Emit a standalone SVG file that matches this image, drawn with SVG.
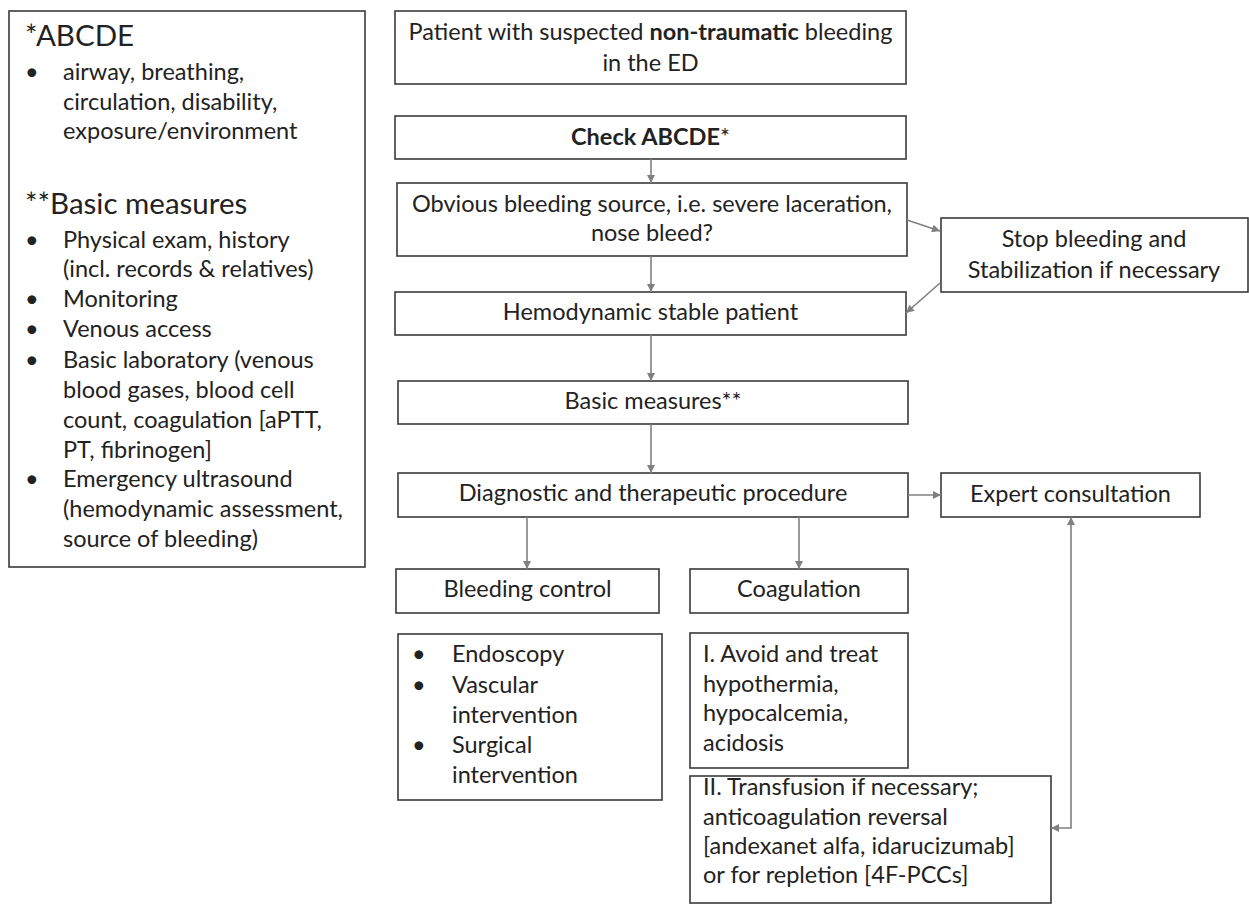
<svg xmlns="http://www.w3.org/2000/svg" width="1249" height="904" viewBox="0 0 1249 904">
<style>
  text { font-family: Lato, "Liberation Sans", sans-serif; fill: #222; }
  .box { fill: #fff; stroke: #3a3a3a; stroke-width: 1.6; }
  .t { font-size: 23.5px; }
  .c { text-anchor: middle; }
  .h { font-size: 29.5px; }
  .b { font-weight: bold; }
  .conn { stroke: #808080; stroke-width: 1.6; fill: none; marker-end: url(#ah); }
</style>
<defs>
  <marker id="ah" viewBox="0 0 10 10" refX="10" refY="5" markerWidth="10" markerHeight="8" markerUnits="userSpaceOnUse" orient="auto-start-reverse">
    <path d="M0,0 L10,5 L0,10 z" fill="#808080"/>
  </marker>
</defs>
<rect width="1249" height="904" fill="#fff"/>

<g id="legend">
  <rect class="box" x="9" y="11" width="356" height="556"/>
  <text class="h" x="25" y="46">*ABCDE</text>
  <text class="t" x="25" y="80">•</text>
  <text class="t" x="63" y="80">airway, breathing,</text>
  <text class="t" x="63" y="110">circulation, disability,</text>
  <text class="t" x="63" y="139">exposure/environment</text>
  <text class="h" x="25" y="214">**Basic measures</text>
  <text class="t" x="25" y="248">•</text>
  <text class="t" x="63" y="248">Physical exam, history</text>
  <text class="t" x="63" y="277">(incl. records &amp; relatives)</text>
  <text class="t" x="25" y="307">•</text>
  <text class="t" x="63" y="307">Monitoring</text>
  <text class="t" x="25" y="337">•</text>
  <text class="t" x="63" y="337">Venous access</text>
  <text class="t" x="25" y="368">•</text>
  <text class="t" x="63" y="368">Basic laboratory (venous</text>
  <text class="t" x="63" y="398">blood gases, blood cell</text>
  <text class="t" x="63" y="428">count, coagulation [aPTT,</text>
  <text class="t" x="63" y="458">PT, fibrinogen]</text>
  <text class="t" x="25" y="487">•</text>
  <text class="t" x="63" y="487">Emergency ultrasound</text>
  <text class="t" x="63" y="517">(hemodynamic assessment,</text>
  <text class="t" x="63" y="547">source of bleeding)</text>
</g>

<g id="patient">
  <rect class="box" x="395" y="11" width="511" height="73"/>
  <text class="t c" x="650.5" y="40">Patient with suspected <tspan class="b">non-traumatic</tspan> bleeding</text>
  <text class="t c" x="650.5" y="71">in the ED</text>
</g>

<g id="abcde">
  <rect class="box" x="395" y="116" width="511" height="43"/>
  <text class="t c" x="650.5" y="145"><tspan class="b">Check ABCDE</tspan>*</text>
</g>

<g id="obvious">
  <rect class="box" x="397" y="183" width="510" height="73"/>
  <text class="t c" x="652" y="212">Obvious bleeding source, i.e. severe laceration,</text>
  <text class="t c" x="652" y="241">nose bleed?</text>
</g>

<g id="stop">
  <rect class="box" x="941" y="218" width="307" height="74"/>
  <text class="t c" x="1094" y="247">Stop bleeding and</text>
  <text class="t c" x="1094" y="278">Stabilization if necessary</text>
</g>

<g id="stable">
  <rect class="box" x="395" y="292" width="511" height="43"/>
  <text class="t c" x="650.5" y="320">Hemodynamic stable patient</text>
</g>

<g id="basic">
  <rect class="box" x="398" y="381" width="510" height="43"/>
  <text class="t c" x="653" y="409">Basic measures**</text>
</g>

<g id="diagnostic">
  <rect class="box" x="398" y="473" width="510" height="44"/>
  <text class="t c" x="653" y="501">Diagnostic and therapeutic procedure</text>
</g>

<g id="expert">
  <rect class="box" x="941" y="473" width="259" height="44"/>
  <text class="t c" x="1070.5" y="502">Expert consultation</text>
</g>

<g id="bleedingcontrol">
  <rect class="box" x="396" y="569" width="263" height="44"/>
  <text class="t c" x="527.5" y="597">Bleeding control</text>
</g>

<g id="coagulation">
  <rect class="box" x="690" y="569" width="218" height="44"/>
  <text class="t c" x="799" y="597">Coagulation</text>
</g>

<g id="controllist">
  <rect class="box" x="398" y="634" width="264" height="166"/>
  <text class="t" x="412" y="662">•</text>
  <text class="t" x="452" y="662">Endoscopy</text>
  <text class="t" x="412" y="693">•</text>
  <text class="t" x="452" y="693">Vascular</text>
  <text class="t" x="452" y="723">intervention</text>
  <text class="t" x="412" y="753">•</text>
  <text class="t" x="452" y="753">Surgical</text>
  <text class="t" x="452" y="783">intervention</text>
</g>

<g id="coag1">
  <rect class="box" x="690" y="633" width="218" height="135"/>
  <text class="t" x="703" y="662">I. Avoid and treat</text>
  <text class="t" x="703" y="692">hypothermia,</text>
  <text class="t" x="703" y="721">hypocalcemia,</text>
  <text class="t" x="703" y="751">acidosis</text>
</g>

<g id="coag2">
  <rect class="box" x="690" y="776" width="361" height="127"/>
  <text class="t" x="703" y="795">II. Transfusion if necessary;</text>
  <text class="t" x="703" y="825">anticoagulation reversal</text>
  <text class="t" x="703" y="854">[andexanet alfa, idarucizumab]</text>
  <text class="t" x="703" y="883">or for repletion [4F-PCCs]</text>
</g>

<g id="connectors">
  <line class="conn" x1="651" y1="159" x2="651" y2="183"/>
  <line class="conn" x1="651" y1="256" x2="651" y2="292"/>
  <line class="conn" x1="651" y1="335" x2="651" y2="381"/>
  <line class="conn" x1="651" y1="424" x2="651" y2="473"/>
  <line class="conn" x1="527" y1="517" x2="527" y2="569"/>
  <line class="conn" x1="799" y1="517" x2="799" y2="569"/>
  <line class="conn" x1="908" y1="495" x2="941" y2="495"/>
  <line class="conn" x1="907" y1="220" x2="940" y2="231"/>
  <line class="conn" x1="940" y1="283" x2="906" y2="313"/>
  <path class="conn" d="M1051,828 H1071 V517" style="marker-start:url(#ah)"/>
</g>
</svg>
